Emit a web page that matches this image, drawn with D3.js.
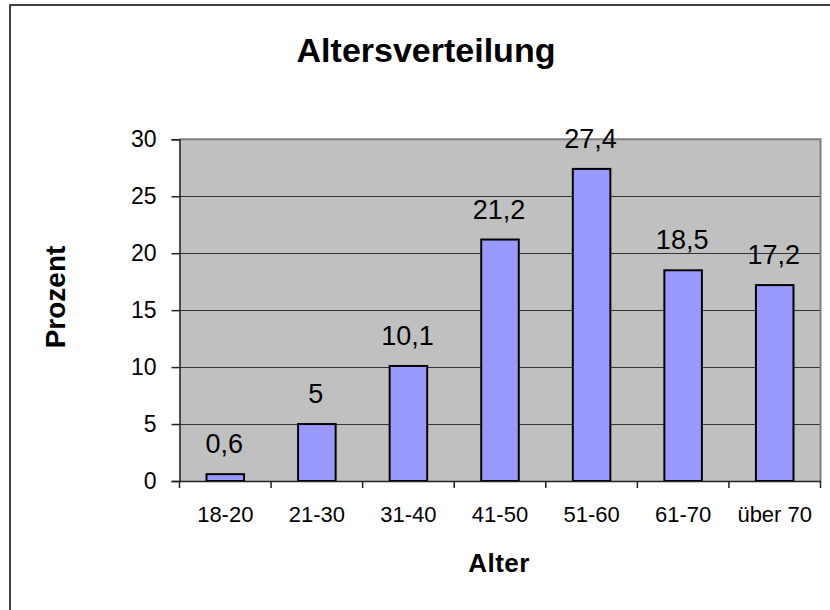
<!DOCTYPE html>
<html><head><meta charset="utf-8">
<script src="https://cdn.jsdelivr.net/npm/d3@7/dist/d3.min.js"></script>
<style>body{margin:0;background:#fff}svg{display:block}text{font-family:"Liberation Sans",Arial,sans-serif}</style>
</head><body>
<script>
const categories = ["18-20","21-30","31-40","41-50","51-60","61-70","über 70"];
const values = [0.6, 5, 10.1, 21.2, 27.4, 18.5, 17.2];
const valueLabels = ["0,6","5","10,1","21,2","27,4","18,5","17,2"];
const yTicks = [0,5,10,15,20,25,30];
const title = "Altersverteilung";
const xTitle = "Alter";
const yTitle = "Prozent";

const W = 830, H = 610;
const FONT = "Liberation Sans, Arial, sans-serif";
const svg = d3.select("body").append("svg").attr("width", W).attr("height", H);

// outer frame
svg.append("rect").attr("x",10).attr("y",5).attr("width",840).attr("height",620)
  .attr("fill","#fff").attr("stroke","#000").attr("stroke-width",1.5);

const L = 179.5, R = 820.5, T = 139.3, B = 481;
const x = d3.scaleBand().domain(categories).range([L, R]).padding(0);
const y = d3.scaleLinear().domain([0,30]).range([B, T]);

// plot background
svg.append("rect").attr("x",L).attr("y",T).attr("width",R-L).attr("height",B-T).attr("fill","#c0c0c0");

// gridlines
svg.append("g").selectAll("line").data(yTicks.filter(d=>d>0)).join("line")
  .attr("x1",L).attr("x2",R).attr("y1",d=>Math.round(y(d))+0.5).attr("y2",d=>Math.round(y(d))+0.5)
  .attr("stroke","#333").attr("stroke-width",1);

// plot border top/right
svg.append("path").attr("d",`M${L},${T} H${R} V${B}`).attr("fill","none").attr("stroke","#808080").attr("stroke-width",2);

// bars
const bw = x.bandwidth()*0.41;
svg.append("g").selectAll("rect").data(values).join("rect")
  .attr("x",(d,i)=>x(categories[i])+x.bandwidth()/2-bw/2)
  .attr("y",d=>y(d)).attr("width",bw).attr("height",d=>B-y(d))
  .attr("fill","#9999ff").attr("stroke","#000").attr("stroke-width",2);

// value labels
svg.append("g").selectAll("text").data(values).join("text")
  .attr("x",(d,i)=>x(categories[i])+x.bandwidth()/2-1)
  .attr("y",d=>y(d)-21).attr("text-anchor","middle").attr("font-size",27)
  .text((d,i)=>valueLabels[i]);

// y axis
const yAxis = d3.axisLeft(y).tickValues(yTicks).tickSize(8).tickPadding(15).tickFormat(d=>d);
const ga = svg.append("g").attr("transform",`translate(${L},0)`).call(yAxis);
ga.attr("font-size",23).attr("font-family",FONT);
ga.select(".domain").attr("stroke","#222").attr("stroke-width",1.5);
ga.selectAll(".tick line").attr("stroke","#222").attr("stroke-width",1.5);
ga.selectAll("text").attr("fill","#000");

// x axis
const gx = svg.append("g").attr("transform",`translate(0,${B})`).call(d3.axisBottom(x).tickSize(0).tickPadding(25));
gx.attr("font-size",22).attr("font-family",FONT);
gx.select(".domain").attr("stroke","#222").attr("stroke-width",1.5);
gx.selectAll("text").attr("fill","#000");
// category boundary ticks
const bounds = categories.map(c=>x(c)).concat([R]);
svg.append("g").selectAll("line").data(bounds).join("line")
  .attr("x1",d=>d).attr("x2",d=>d).attr("y1",B).attr("y2",B+7)
  .attr("stroke","#222").attr("stroke-width",1.5);

// titles
svg.append("text").attr("x",426).attr("y",62).attr("text-anchor","middle")
  .attr("font-size",34).attr("font-weight","bold").text(title);
svg.append("text").attr("x",499).attr("y",572).attr("text-anchor","middle")
  .attr("font-size",26).attr("font-weight","bold").attr("letter-spacing",0.5).text(xTitle);
svg.append("text").attr("transform","translate(65,297) rotate(-90)").attr("text-anchor","middle")
  .attr("font-size",28).attr("font-weight","bold").text(yTitle);
</script>
</body></html>
